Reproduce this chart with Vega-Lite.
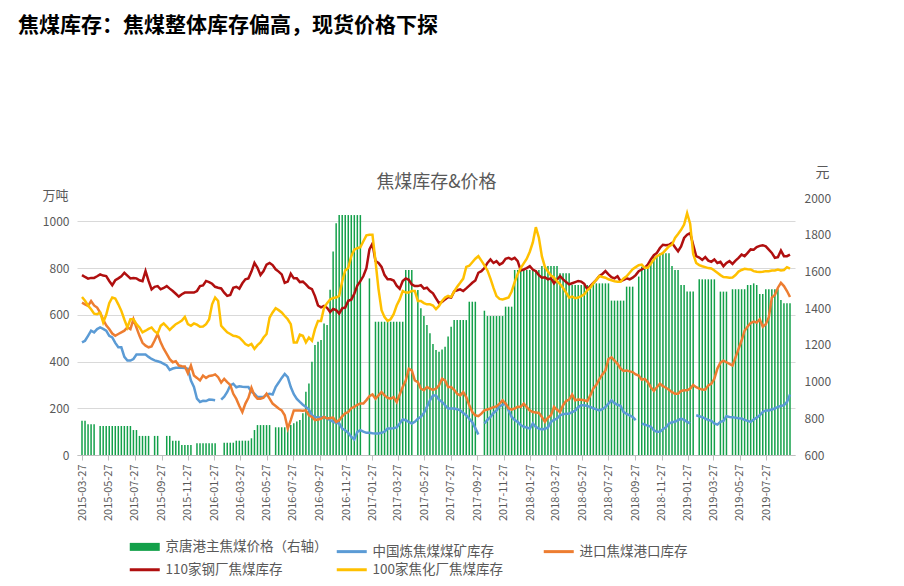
{
"$schema": "https://vega.github.io/schema/vega-lite/v6.json",
"width": 718, "height": 257,
"autosize": {"type": "none"},
"padding": {"left": 77, "top": 198, "right": 109, "bottom": 131},
"background": "white",
"config": {"font": "Noto Sans CJK SC", "view": {"stroke": null},
 "legend": {"orient": "none", "legendX": 61, "legendY": 342, "direction": "horizontal", "columns": 3, "gridAlign": "all", "columnPadding": 2, "rowPadding": -4, "symbolType": "stroke", "symbolSize": 900, "symbolStrokeWidth": 3, "labelFontSize": 13.5, "labelColor": "#595959", "labelOffset": 14, "labelLimit": 300}},
"title": {"text": "焦煤库存：焦煤整体库存偏高，现货价格下探", "anchor": "start", "frame": "group", "dx": -59, "offset": 129, "fontSize": 21, "fontWeight": "bold", "color": "#000000", "font": "Noto Sans CJK SC"},
"data": {"values": [
{"d":"2015-03-27","p":787,"b":482,"o":652,"r":770,"y":676},
{"d":"2015-04-03","p":787,"b":489,"o":645,"r":762,"y":660},
{"d":"2015-04-10","p":767,"b":510,"o":638,"r":755,"y":640},
{"d":"2015-04-17","p":767,"b":532,"o":659,"r":758,"y":624},
{"d":"2015-04-24","p":767,"b":525,"o":640,"r":758,"y":605},
{"d":"2015-05-01","p":null,"b":539,"o":631,"r":765,"y":603},
{"d":"2015-05-08","p":758,"b":546,"o":610,"r":773,"y":610},
{"d":"2015-05-15","p":758,"b":540,"o":580,"r":768,"y":567},
{"d":"2015-05-22","p":758,"b":532,"o":555,"r":766,"y":600},
{"d":"2015-05-29","p":758,"b":510,"o":539,"r":745,"y":650},
{"d":"2015-06-05","p":758,"b":503,"o":520,"r":727,"y":674},
{"d":"2015-06-12","p":758,"b":480,"o":510,"r":748,"y":670},
{"d":"2015-06-19","p":758,"b":461,"o":518,"r":756,"y":645},
{"d":"2015-06-26","p":758,"b":461,"o":525,"r":765,"y":617},
{"d":"2015-07-03","p":758,"b":420,"o":532,"r":780,"y":580},
{"d":"2015-07-10","p":758,"b":404,"o":546,"r":768,"y":546},
{"d":"2015-07-17","p":758,"b":404,"o":539,"r":756,"y":581},
{"d":"2015-07-24","p":736,"b":411,"o":581,"r":758,"y":581},
{"d":"2015-07-31","p":736,"b":430,"o":545,"r":756,"y":560},
{"d":"2015-08-07","p":704,"b":430,"o":510,"r":748,"y":546},
{"d":"2015-08-14","p":704,"b":430,"o":480,"r":744,"y":525},
{"d":"2015-08-21","p":704,"b":430,"o":468,"r":787,"y":532},
{"d":"2015-08-28","p":704,"b":420,"o":461,"r":745,"y":540},
{"d":"2015-09-04","p":null,"b":411,"o":465,"r":709,"y":546},
{"d":"2015-09-11","p":704,"b":405,"o":490,"r":720,"y":530},
{"d":"2015-09-18","p":704,"b":401,"o":518,"r":723,"y":520},
{"d":"2015-09-25","p":null,"b":397,"o":482,"r":709,"y":553},
{"d":"2015-10-02","p":null,"b":390,"o":455,"r":715,"y":563},
{"d":"2015-10-09","p":704,"b":383,"o":433,"r":723,"y":550},
{"d":"2015-10-16","p":704,"b":364,"o":410,"r":712,"y":535},
{"d":"2015-10-23","p":678,"b":370,"o":397,"r":702,"y":548},
{"d":"2015-10-30","p":678,"b":373,"o":401,"r":690,"y":560},
{"d":"2015-11-06","p":678,"b":373,"o":383,"r":678,"y":567},
{"d":"2015-11-13","p":654,"b":373,"o":380,"r":688,"y":575},
{"d":"2015-11-20","p":654,"b":372,"o":379,"r":695,"y":591},
{"d":"2015-11-27","p":654,"b":369,"o":350,"r":695,"y":560},
{"d":"2015-12-04","p":654,"b":319,"o":383,"r":695,"y":553},
{"d":"2015-12-11","p":null,"b":291,"o":340,"r":695,"y":563},
{"d":"2015-12-18","p":664,"b":241,"o":330,"r":702,"y":558},
{"d":"2015-12-25","p":664,"b":227,"o":319,"r":723,"y":549},
{"d":"2016-01-01","p":664,"b":232,"o":340,"r":726,"y":550},
{"d":"2016-01-08","p":664,"b":231,"o":330,"r":745,"y":560},
{"d":"2016-01-15","p":664,"b":237,"o":338,"r":740,"y":580},
{"d":"2016-01-22","p":664,"b":236,"o":340,"r":733,"y":645},
{"d":"2016-01-29","p":664,"b":234,"o":345,"r":720,"y":674},
{"d":"2016-02-05","p":null,"b":null,"o":333,"r":716,"y":659},
{"d":"2016-02-12","p":null,"b":237,"o":310,"r":713,"y":553},
{"d":"2016-02-19","p":667,"b":250,"o":326,"r":695,"y":539},
{"d":"2016-02-26","p":667,"b":270,"o":312,"r":681,"y":525},
{"d":"2016-03-04","p":667,"b":298,"o":300,"r":685,"y":518},
{"d":"2016-03-11","p":667,"b":305,"o":262,"r":716,"y":510},
{"d":"2016-03-18","p":678,"b":290,"o":240,"r":720,"y":508},
{"d":"2016-03-25","p":678,"b":294,"o":210,"r":712,"y":503},
{"d":"2016-04-01","p":678,"b":292,"o":184,"r":735,"y":490},
{"d":"2016-04-08","p":678,"b":291,"o":220,"r":752,"y":475},
{"d":"2016-04-15","p":678,"b":291,"o":245,"r":756,"y":468},
{"d":"2016-04-22","p":691,"b":270,"o":288,"r":785,"y":475},
{"d":"2016-04-29","p":736,"b":262,"o":255,"r":822,"y":454},
{"d":"2016-05-06","p":763,"b":248,"o":241,"r":801,"y":470},
{"d":"2016-05-13","p":763,"b":248,"o":241,"r":770,"y":482},
{"d":"2016-05-20","p":763,"b":248,"o":245,"r":787,"y":503},
{"d":"2016-05-27","p":763,"b":258,"o":262,"r":815,"y":518},
{"d":"2016-06-03","p":763,"b":262,"o":241,"r":822,"y":588},
{"d":"2016-06-10","p":null,"b":259,"o":220,"r":813,"y":610},
{"d":"2016-06-17","p":751,"b":291,"o":210,"r":795,"y":628},
{"d":"2016-06-24","p":751,"b":310,"o":199,"r":785,"y":620},
{"d":"2016-07-01","p":751,"b":330,"o":191,"r":773,"y":610},
{"d":"2016-07-08","p":751,"b":347,"o":170,"r":737,"y":595},
{"d":"2016-07-15","p":763,"b":333,"o":113,"r":742,"y":581},
{"d":"2016-07-22","p":763,"b":291,"o":149,"r":776,"y":560},
{"d":"2016-07-29","p":773,"b":260,"o":191,"r":756,"y":482},
{"d":"2016-08-05","p":782,"b":240,"o":191,"r":756,"y":482},
{"d":"2016-08-12","p":791,"b":227,"o":190,"r":740,"y":515},
{"d":"2016-08-19","p":827,"b":215,"o":189,"r":742,"y":510},
{"d":"2016-08-26","p":945,"b":206,"o":191,"r":730,"y":482},
{"d":"2016-09-02","p":990,"b":195,"o":170,"r":716,"y":503},
{"d":"2016-09-09","p":1108,"b":170,"o":163,"r":710,"y":489},
{"d":"2016-09-16","p":1199,"b":163,"o":149,"r":680,"y":539},
{"d":"2016-09-23","p":1217,"b":160,"o":152,"r":640,"y":574},
{"d":"2016-09-30","p":1227,"b":160,"o":155,"r":632,"y":574},
{"d":"2016-10-07","p":1317,"b":163,"o":163,"r":638,"y":630},
{"d":"2016-10-14","p":1308,"b":156,"o":156,"r":630,"y":650},
{"d":"2016-10-21","p":1500,"b":150,"o":158,"r":612,"y":666},
{"d":"2016-10-28","p":1708,"b":142,"o":160,"r":625,"y":672},
{"d":"2016-11-04","p":1862,"b":138,"o":142,"r":620,"y":674},
{"d":"2016-11-11","p":1907,"b":135,"o":149,"r":605,"y":681},
{"d":"2016-11-18","p":1907,"b":113,"o":165,"r":628,"y":744},
{"d":"2016-11-25","p":1907,"b":106,"o":178,"r":631,"y":790},
{"d":"2016-12-02","p":1907,"b":95,"o":184,"r":660,"y":801},
{"d":"2016-12-09","p":1907,"b":78,"o":200,"r":665,"y":851},
{"d":"2016-12-16","p":1907,"b":67,"o":206,"r":690,"y":879},
{"d":"2016-12-23","p":1907,"b":99,"o":215,"r":725,"y":885},
{"d":"2016-12-30","p":1907,"b":106,"o":220,"r":744,"y":889},
{"d":"2017-01-06","p":null,"b":100,"o":220,"r":766,"y":915},
{"d":"2017-01-13","p":null,"b":95,"o":235,"r":800,"y":940},
{"d":"2017-01-20","p":1562,"b":95,"o":252,"r":880,"y":943},
{"d":"2017-01-27","p":null,"b":93,"o":259,"r":905,"y":943},
{"d":"2017-02-03","p":1326,"b":92,"o":241,"r":830,"y":830},
{"d":"2017-02-10","p":1326,"b":92,"o":255,"r":822,"y":710},
{"d":"2017-02-17","p":1326,"b":95,"o":269,"r":805,"y":620},
{"d":"2017-02-24","p":1326,"b":100,"o":255,"r":770,"y":590},
{"d":"2017-03-03","p":1326,"b":113,"o":245,"r":752,"y":574},
{"d":"2017-03-10","p":1326,"b":113,"o":241,"r":752,"y":581},
{"d":"2017-03-17","p":1326,"b":115,"o":248,"r":747,"y":603},
{"d":"2017-03-24","p":1326,"b":118,"o":227,"r":725,"y":640},
{"d":"2017-03-31","p":1326,"b":135,"o":259,"r":712,"y":666},
{"d":"2017-04-07","p":1326,"b":152,"o":291,"r":745,"y":702},
{"d":"2017-04-14","p":1608,"b":149,"o":319,"r":756,"y":695},
{"d":"2017-04-21","p":1608,"b":142,"o":369,"r":750,"y":695},
{"d":"2017-04-28","p":1608,"b":135,"o":362,"r":730,"y":702},
{"d":"2017-05-05","p":null,"b":142,"o":319,"r":723,"y":702},
{"d":"2017-05-12","p":1499,"b":155,"o":312,"r":723,"y":659},
{"d":"2017-05-19","p":1400,"b":163,"o":284,"r":727,"y":659},
{"d":"2017-05-26","p":1357,"b":180,"o":277,"r":712,"y":650},
{"d":"2017-06-02","p":1308,"b":206,"o":291,"r":716,"y":645},
{"d":"2017-06-09","p":1263,"b":234,"o":284,"r":702,"y":645},
{"d":"2017-06-16","p":1205,"b":255,"o":279,"r":692,"y":640},
{"d":"2017-06-23","p":1172,"b":255,"o":284,"r":670,"y":624},
{"d":"2017-06-30","p":1163,"b":237,"o":298,"r":650,"y":638},
{"d":"2017-07-07","p":1175,"b":227,"o":326,"r":655,"y":659},
{"d":"2017-07-14","p":1190,"b":213,"o":319,"r":666,"y":674},
{"d":"2017-07-21","p":1245,"b":199,"o":291,"r":676,"y":681},
{"d":"2017-07-28","p":1299,"b":199,"o":291,"r":674,"y":676},
{"d":"2017-08-04","p":1335,"b":199,"o":279,"r":700,"y":700},
{"d":"2017-08-11","p":1335,"b":196,"o":262,"r":705,"y":720},
{"d":"2017-08-18","p":1335,"b":191,"o":255,"r":709,"y":737},
{"d":"2017-08-25","p":1335,"b":180,"o":269,"r":702,"y":755},
{"d":"2017-09-01","p":1335,"b":170,"o":248,"r":713,"y":805},
{"d":"2017-09-08","p":1435,"b":155,"o":213,"r":725,"y":810},
{"d":"2017-09-15","p":1435,"b":140,"o":184,"r":737,"y":825},
{"d":"2017-09-22","p":1435,"b":115,"o":170,"r":747,"y":840},
{"d":"2017-09-29","p":null,"b":88,"o":166,"r":780,"y":851},
{"d":"2017-10-06","p":null,"b":null,"o":177,"r":787,"y":832},
{"d":"2017-10-13","p":1386,"b":135,"o":191,"r":800,"y":812},
{"d":"2017-10-20","p":1357,"b":150,"o":195,"r":822,"y":790},
{"d":"2017-10-27","p":1357,"b":163,"o":199,"r":837,"y":755},
{"d":"2017-11-03","p":1357,"b":180,"o":205,"r":822,"y":715},
{"d":"2017-11-10","p":1357,"b":191,"o":208,"r":830,"y":680},
{"d":"2017-11-17","p":1357,"b":208,"o":220,"r":815,"y":668},
{"d":"2017-11-24","p":1357,"b":215,"o":234,"r":822,"y":666},
{"d":"2017-12-01","p":1408,"b":220,"o":220,"r":840,"y":670},
{"d":"2017-12-08","p":1408,"b":191,"o":200,"r":844,"y":674},
{"d":"2017-12-15","p":1408,"b":163,"o":194,"r":837,"y":700},
{"d":"2017-12-22","p":1608,"b":150,"o":199,"r":844,"y":740},
{"d":"2017-12-29","p":1608,"b":142,"o":206,"r":830,"y":775},
{"d":"2018-01-05","p":1608,"b":128,"o":206,"r":790,"y":800},
{"d":"2018-01-12","p":1608,"b":121,"o":220,"r":794,"y":820},
{"d":"2018-01-19","p":1608,"b":118,"o":205,"r":800,"y":840},
{"d":"2018-01-26","p":1608,"b":113,"o":191,"r":808,"y":870},
{"d":"2018-02-02","p":1608,"b":135,"o":184,"r":794,"y":910},
{"d":"2018-02-09","p":1608,"b":120,"o":182,"r":787,"y":975},
{"d":"2018-02-16","p":1608,"b":113,"o":180,"r":770,"y":930},
{"d":"2018-02-23","p":1630,"b":109,"o":163,"r":759,"y":850},
{"d":"2018-03-02","p":1630,"b":112,"o":142,"r":761,"y":805},
{"d":"2018-03-09","p":1630,"b":118,"o":160,"r":752,"y":785},
{"d":"2018-03-16","p":1630,"b":142,"o":170,"r":756,"y":768},
{"d":"2018-03-23","p":1630,"b":150,"o":206,"r":735,"y":760},
{"d":"2018-03-30","p":1630,"b":156,"o":194,"r":750,"y":744},
{"d":"2018-04-06","p":1590,"b":170,"o":184,"r":766,"y":732},
{"d":"2018-04-13","p":1590,"b":175,"o":213,"r":752,"y":715},
{"d":"2018-04-20","p":1590,"b":177,"o":231,"r":740,"y":695},
{"d":"2018-04-27","p":1590,"b":177,"o":237,"r":730,"y":674},
{"d":"2018-05-04","p":1526,"b":184,"o":259,"r":735,"y":678},
{"d":"2018-05-11","p":1526,"b":190,"o":234,"r":740,"y":671},
{"d":"2018-05-18","p":1526,"b":205,"o":237,"r":745,"y":674},
{"d":"2018-05-25","p":1526,"b":213,"o":236,"r":742,"y":680},
{"d":"2018-06-01","p":1526,"b":213,"o":234,"r":733,"y":688},
{"d":"2018-06-08","p":1526,"b":210,"o":230,"r":709,"y":705},
{"d":"2018-06-15","p":1508,"b":206,"o":255,"r":723,"y":716},
{"d":"2018-06-22","p":1535,"b":200,"o":285,"r":737,"y":735},
{"d":"2018-06-29","p":1535,"b":195,"o":300,"r":750,"y":750},
{"d":"2018-07-06","p":1535,"b":191,"o":325,"r":766,"y":766},
{"d":"2018-07-13","p":1535,"b":196,"o":345,"r":775,"y":762},
{"d":"2018-07-20","p":1535,"b":205,"o":362,"r":787,"y":759},
{"d":"2018-07-27","p":1535,"b":220,"o":411,"r":773,"y":752},
{"d":"2018-08-03","p":1441,"b":234,"o":418,"r":761,"y":748},
{"d":"2018-08-10","p":1441,"b":222,"o":404,"r":756,"y":744},
{"d":"2018-08-17","p":1441,"b":215,"o":390,"r":765,"y":742},
{"d":"2018-08-24","p":1441,"b":210,"o":370,"r":744,"y":742},
{"d":"2018-08-31","p":1441,"b":184,"o":360,"r":750,"y":756},
{"d":"2018-09-07","p":1517,"b":176,"o":362,"r":756,"y":765},
{"d":"2018-09-14","p":1517,"b":170,"o":358,"r":752,"y":780},
{"d":"2018-09-21","p":1517,"b":163,"o":355,"r":759,"y":795},
{"d":"2018-09-28","p":null,"b":149,"o":345,"r":770,"y":804},
{"d":"2018-10-05","p":1572,"b":null,"o":340,"r":787,"y":812},
{"d":"2018-10-12","p":1626,"b":135,"o":322,"r":794,"y":815},
{"d":"2018-10-19","p":1626,"b":130,"o":326,"r":801,"y":801},
{"d":"2018-10-26","p":1626,"b":126,"o":312,"r":815,"y":801},
{"d":"2018-11-02","p":1653,"b":121,"o":290,"r":837,"y":818},
{"d":"2018-11-09","p":1681,"b":106,"o":275,"r":855,"y":837},
{"d":"2018-11-16","p":1681,"b":99,"o":290,"r":865,"y":851},
{"d":"2018-11-23","p":1699,"b":99,"o":305,"r":886,"y":858},
{"d":"2018-11-30","p":1699,"b":110,"o":295,"r":900,"y":865},
{"d":"2018-12-07","p":1699,"b":118,"o":288,"r":898,"y":879},
{"d":"2018-12-14","p":1699,"b":135,"o":279,"r":900,"y":893},
{"d":"2018-12-21","p":1630,"b":140,"o":269,"r":908,"y":900},
{"d":"2018-12-28","p":1608,"b":142,"o":262,"r":889,"y":929},
{"d":"2019-01-04","p":1608,"b":149,"o":262,"r":872,"y":946},
{"d":"2019-01-11","p":1526,"b":156,"o":274,"r":893,"y":964},
{"d":"2019-01-18","p":1526,"b":150,"o":277,"r":929,"y":986},
{"d":"2019-01-25","p":1490,"b":142,"o":277,"r":943,"y":1035},
{"d":"2019-02-01","p":1490,"b":135,"o":284,"r":950,"y":990},
{"d":"2019-02-08","p":1490,"b":null,"o":300,"r":900,"y":860},
{"d":"2019-02-15","p":null,"b":170,"o":290,"r":851,"y":822},
{"d":"2019-02-22","p":1557,"b":166,"o":284,"r":845,"y":813},
{"d":"2019-03-01","p":1557,"b":162,"o":280,"r":835,"y":808},
{"d":"2019-03-08","p":1557,"b":156,"o":279,"r":847,"y":804},
{"d":"2019-03-15","p":1557,"b":150,"o":298,"r":832,"y":800},
{"d":"2019-03-22","p":1557,"b":146,"o":305,"r":827,"y":798},
{"d":"2019-03-29","p":1557,"b":135,"o":326,"r":837,"y":790},
{"d":"2019-04-05","p":null,"b":130,"o":370,"r":822,"y":780},
{"d":"2019-04-12","p":1490,"b":142,"o":395,"r":827,"y":770},
{"d":"2019-04-19","p":1490,"b":146,"o":404,"r":808,"y":762},
{"d":"2019-04-26","p":1490,"b":166,"o":397,"r":822,"y":761},
{"d":"2019-05-03","p":null,"b":163,"o":390,"r":830,"y":759},
{"d":"2019-05-10","p":1503,"b":162,"o":383,"r":818,"y":760},
{"d":"2019-05-17","p":1503,"b":160,"o":418,"r":832,"y":770},
{"d":"2019-05-24","p":1503,"b":157,"o":454,"r":844,"y":785},
{"d":"2019-05-31","p":1503,"b":156,"o":490,"r":858,"y":792},
{"d":"2019-06-07","p":1503,"b":150,"o":532,"r":851,"y":797},
{"d":"2019-06-14","p":1526,"b":146,"o":550,"r":865,"y":795},
{"d":"2019-06-21","p":1526,"b":142,"o":565,"r":880,"y":794},
{"d":"2019-06-28","p":1535,"b":152,"o":571,"r":879,"y":787},
{"d":"2019-07-05","p":1526,"b":160,"o":567,"r":890,"y":784},
{"d":"2019-07-12","p":1477,"b":170,"o":581,"r":895,"y":783},
{"d":"2019-07-19","p":1477,"b":184,"o":549,"r":898,"y":784},
{"d":"2019-07-26","p":1503,"b":191,"o":560,"r":893,"y":787},
{"d":"2019-08-02","p":1503,"b":191,"o":590,"r":879,"y":787},
{"d":"2019-08-09","p":1503,"b":195,"o":674,"r":865,"y":790},
{"d":"2019-08-16","p":1503,"b":199,"o":685,"r":844,"y":790},
{"d":"2019-08-23","p":1503,"b":206,"o":716,"r":847,"y":794},
{"d":"2019-08-30","p":1444,"b":210,"o":737,"r":875,"y":790},
{"d":"2019-09-06","p":1426,"b":213,"o":723,"r":851,"y":792},
{"d":"2019-09-13","p":1426,"b":227,"o":702,"r":851,"y":804},
{"d":"2019-09-20","p":1426,"b":259,"o":676,"r":858,"y":798}
]},
"layer": [
{
"mark": {"type": "bar", "width": 1.5},
"encoding": {
"x": {"field": "d", "type": "temporal",
 "scale": {"type": "utc", "domain": [{"year": 2015, "month": 3, "date": 27, "utc": true}, {"year": 2019, "month": 9, "date": 20, "utc": true}]},
 "axis": {"orient": "bottom", "title": null, "format": "%Y-%m-%d", "labelAngle": -90, "labelFontSize": 11, "labelColor": "#595959", "labelPadding": 4, "tickSize": 5, "tickColor": "#BFBFBF", "domainColor": "#BFBFBF", "grid": false, "labelOverlap": false, "labelFlush": false,
 "values": [
 {"year":2015,"month":3,"date":27,"utc":true},{"year":2015,"month":5,"date":27,"utc":true},{"year":2015,"month":7,"date":27,"utc":true},{"year":2015,"month":9,"date":27,"utc":true},{"year":2015,"month":11,"date":27,"utc":true},
 {"year":2016,"month":1,"date":27,"utc":true},{"year":2016,"month":3,"date":27,"utc":true},{"year":2016,"month":5,"date":27,"utc":true},{"year":2016,"month":7,"date":27,"utc":true},{"year":2016,"month":9,"date":27,"utc":true},{"year":2016,"month":11,"date":27,"utc":true},
 {"year":2017,"month":1,"date":27,"utc":true},{"year":2017,"month":3,"date":27,"utc":true},{"year":2017,"month":5,"date":27,"utc":true},{"year":2017,"month":7,"date":27,"utc":true},{"year":2017,"month":9,"date":27,"utc":true},{"year":2017,"month":11,"date":27,"utc":true},
 {"year":2018,"month":1,"date":27,"utc":true},{"year":2018,"month":3,"date":27,"utc":true},{"year":2018,"month":5,"date":27,"utc":true},{"year":2018,"month":7,"date":27,"utc":true},{"year":2018,"month":9,"date":27,"utc":true},{"year":2018,"month":11,"date":27,"utc":true},
 {"year":2019,"month":1,"date":27,"utc":true},{"year":2019,"month":3,"date":27,"utc":true},{"year":2019,"month":5,"date":27,"utc":true},{"year":2019,"month":7,"date":27,"utc":true}
 ]}},
"y": {"field": "p", "type": "quantitative", "scale": {"domain": [600, 2000], "nice": false, "zero": false},
 "axis": {"orient": "right", "format": "d", "values": [600,800,1000,1200,1400,1600,1800,2000], "grid": false, "domain": false, "ticks": false, "tickSize": 0, "labelPadding": 9, "labelFontSize": 12, "labelColor": "#595959", "title": "元", "titleAngle": 0, "titleX": 27, "titleY": -26, "titleAlign": "center", "titleBaseline": "middle", "titleFontSize": 14, "titleFontWeight": "normal", "titleColor": "#595959"}},
"y2": {"datum": 600},
"color": {"datum": "p", "type": "nominal",
 "scale": {"domain": ["p","b","o","r","y"], "range": ["#13A04A","#5B9BD5","#ED7D31","#B00F0F","#FFC000"]},
 "legend": {"title": null,
  "labelExpr": "datum.label === 'p' ? '京唐港主焦煤价格（右轴）' : datum.label === 'b' ? '中国炼焦煤煤矿库存' : datum.label === 'o' ? '进口焦煤港口库存' : datum.label === 'r' ? '110家钢厂焦煤库存' : '100家焦化厂焦煤库存'",
  "encode": {"symbols": {"update": {"strokeWidth": {"signal": "datum.value === 'p' ? 8 : 3"}, "stroke": {"scale": "color", "field": "value"}}}}}}
}
},
{
"transform": [{"fold": ["b","o","r","y"], "as": ["s","v"]}],
"mark": {"type": "line", "strokeWidth": 2.5, "invalid": "break-paths-show-domains"},
"encoding": {
"x": {"field": "d", "type": "temporal",
 "scale": {"type": "utc", "domain": [{"year": 2015, "month": 3, "date": 27, "utc": true}, {"year": 2019, "month": 9, "date": 20, "utc": true}]},
 "axis": {"orient": "top", "labels": false, "ticks": false, "domain": false, "grid": false, "title": "焦煤库存&价格", "titleFontSize": 18, "titleFontWeight": "normal", "titleColor": "#595959", "titlePadding": 7}},
"y": {"field": "v", "type": "quantitative", "scale": {"domain": [0, 1100], "nice": false, "zero": false},
 "axis": {"orient": "left", "format": "d", "values": [0,200,400,600,800,1000], "grid": true, "gridColor": "#D9D9D9", "gridWidth": 1, "domain": false, "ticks": false, "tickSize": 0, "labelPadding": 8, "labelFontSize": 12, "labelColor": "#595959", "title": "万吨", "titleAngle": 0, "titleX": -22, "titleY": -3, "titleAlign": "center", "titleBaseline": "middle", "titleFontSize": 13, "titleFontWeight": "normal", "titleColor": "#595959"}},
"color": {"field": "s", "type": "nominal", "scale": {"domain": ["p","b","o","r","y"], "range": ["#13A04A","#5B9BD5","#ED7D31","#B00F0F","#FFC000"]},
 "legend": {"title": null,
  "labelExpr": "datum.label === 'p' ? '京唐港主焦煤价格（右轴）' : datum.label === 'b' ? '中国炼焦煤煤矿库存' : datum.label === 'o' ? '进口焦煤港口库存' : datum.label === 'r' ? '110家钢厂焦煤库存' : '100家焦化厂焦煤库存'",
  "encode": {"symbols": {"update": {"strokeWidth": {"signal": "datum.value === 'p' ? 8 : 3"}, "stroke": {"scale": "color", "field": "value"}}}}}}
}
}
],
"resolve": {"scale": {"y": "independent"}, "axis": {"x": "independent"}}
}
